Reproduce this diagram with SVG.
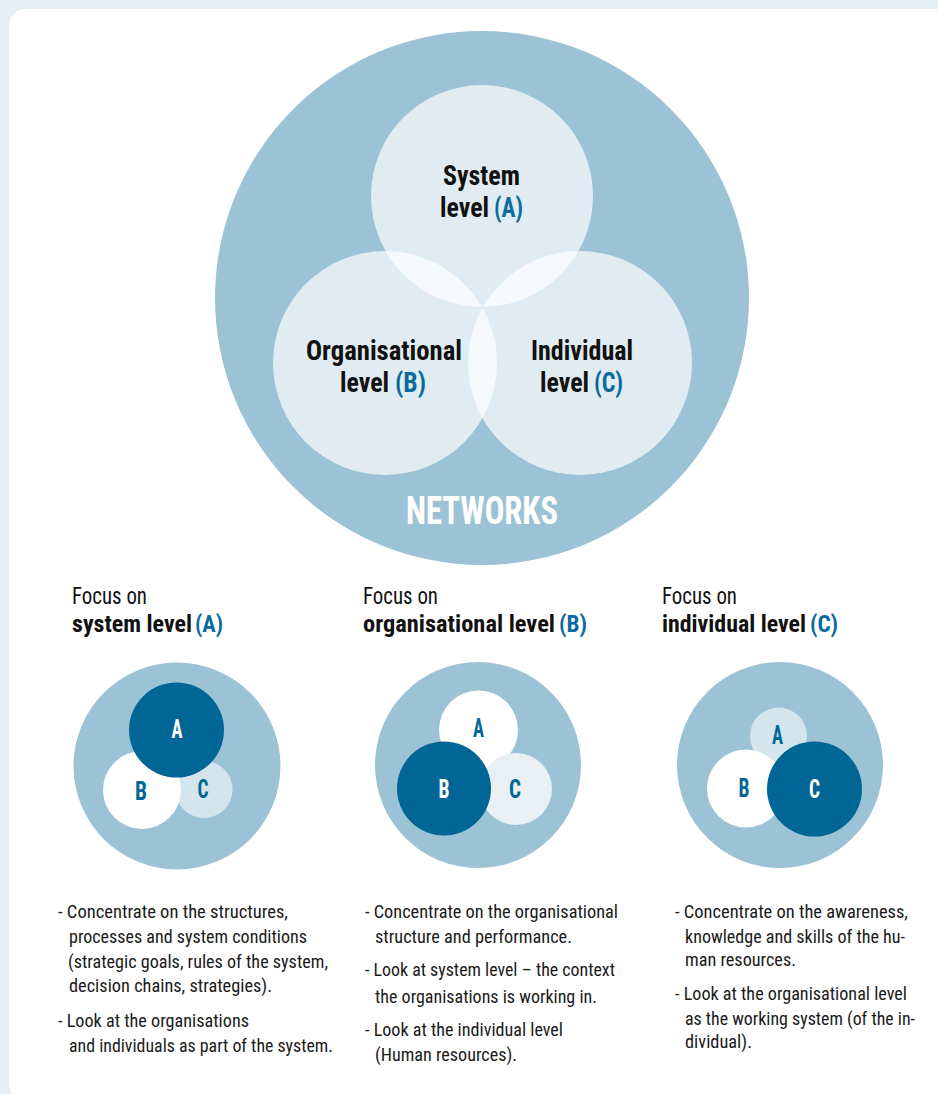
<svg xmlns="http://www.w3.org/2000/svg" width="938" height="1094" viewBox="0 0 938 1094">
<style>
text{font-family:"Liberation Sans Narrow","Roboto Condensed","DejaVu Sans Condensed","Liberation Sans",sans-serif;}
.lbl{font-size:28px;font-weight:bold;fill:#111;}
.net{font-size:38px;font-weight:bold;fill:#fff;}
.focus{font-size:23px;fill:#111;}
.focusb{font-size:23px;font-weight:bold;fill:#111;}
.body{font-size:18px;fill:#1a1a1a;}
.lt{font-size:25px;font-weight:bold;text-anchor:middle;}
.outer{fill:#9cc3d5;}
.venn{fill:#fff;fill-opacity:0.69;}
.dark{fill:#006696;}
.white{fill:#fff;}
.blue{fill:#0b6b9c;}
</style>
<rect x="0" y="0" width="938" height="1094" fill="#e4eef3"/>
<rect x="9" y="9" width="945" height="1092" rx="16" fill="#fff"/>

<g id="networks">
<circle class="outer" cx="482" cy="298" r="267"/>
<text class="net" x="406" y="524" textLength="152" lengthAdjust="spacingAndGlyphs">NETWORKS</text>
</g>
<g id="system-level">
<circle class="venn" cx="482" cy="196" r="111"/>
<text class="lbl" x="443" y="185" textLength="77" lengthAdjust="spacingAndGlyphs">System</text>
<text class="lbl" x="440" y="217" textLength="49" lengthAdjust="spacingAndGlyphs">level</text>
<text class="lbl blue" x="494" y="217" textLength="29" lengthAdjust="spacingAndGlyphs">(A)</text>
</g>
<g id="organisational-level">
<circle class="venn" cx="385" cy="363" r="112"/>
<text class="lbl" x="306" y="360" textLength="156" lengthAdjust="spacingAndGlyphs">Organisational</text>
<text class="lbl" x="340" y="392" textLength="49" lengthAdjust="spacingAndGlyphs">level</text>
<text class="lbl blue" x="395" y="392" textLength="31" lengthAdjust="spacingAndGlyphs">(B)</text>
</g>
<g id="individual-level">
<circle class="venn" cx="580" cy="363" r="112"/>
<text class="lbl" x="531" y="360" textLength="102" lengthAdjust="spacingAndGlyphs">Individual</text>
<text class="lbl" x="540" y="392" textLength="49" lengthAdjust="spacingAndGlyphs">level</text>
<text class="lbl blue" x="594" y="392" textLength="29" lengthAdjust="spacingAndGlyphs">(C)</text>
</g>

<g id="focus-a">
<text class="focus" x="72" y="604" textLength="75" lengthAdjust="spacingAndGlyphs">Focus on</text>
<text class="focusb" x="72" y="632" textLength="120" lengthAdjust="spacingAndGlyphs">system level</text>
<text class="focusb blue" x="195" y="632" textLength="28" lengthAdjust="spacingAndGlyphs">(A)</text>
<circle class="outer" cx="177" cy="766" r="103.5"/>
<circle cx="204" cy="789.5" r="28.5" fill="#d4e5ee"/>
<circle class="white" cx="142" cy="790" r="39"/>
<circle class="dark" cx="176.5" cy="730" r="47.5"/>
<text class="lt" x="177" y="738" fill="#fff" textLength="11" lengthAdjust="spacingAndGlyphs">A</text>
<text class="lt" x="141" y="800" fill="#006696" textLength="12" lengthAdjust="spacingAndGlyphs">B</text>
<text class="lt" x="203" y="798" fill="#006696" textLength="11" lengthAdjust="spacingAndGlyphs">C</text>
<text class="body" x="58" y="918" textLength="230" lengthAdjust="spacingAndGlyphs">- Concentrate on the structures,</text>
<text class="body" x="69" y="943" textLength="238" lengthAdjust="spacingAndGlyphs">processes and system conditions</text>
<text class="body" x="68" y="968" textLength="260" lengthAdjust="spacingAndGlyphs">(strategic goals, rules of the system,</text>
<text class="body" x="69" y="992" textLength="203" lengthAdjust="spacingAndGlyphs">decision chains, strategies).</text>
<text class="body" x="58" y="1027" textLength="191" lengthAdjust="spacingAndGlyphs">- Look at the organisations</text>
<text class="body" x="69" y="1052" textLength="264" lengthAdjust="spacingAndGlyphs">and individuals as part of the system.</text>
</g>

<g id="focus-b">
<text class="focus" x="363" y="604" textLength="75" lengthAdjust="spacingAndGlyphs">Focus on</text>
<text class="focusb" x="363" y="632" textLength="192" lengthAdjust="spacingAndGlyphs">organisational level</text>
<text class="focusb blue" x="559" y="632" textLength="28" lengthAdjust="spacingAndGlyphs">(B)</text>
<circle class="outer" cx="478" cy="765" r="103"/>
<circle class="white" cx="478.5" cy="730" r="39.5"/>
<circle cx="516" cy="789" r="36" fill="#e8f0f4"/>
<circle class="dark" cx="444" cy="788.5" r="47"/>
<text class="lt" x="478.5" y="737" fill="#006696" textLength="11" lengthAdjust="spacingAndGlyphs">A</text>
<text class="lt" x="444" y="798" fill="#fff" textLength="11" lengthAdjust="spacingAndGlyphs">B</text>
<text class="lt" x="515" y="798" fill="#006696" textLength="12" lengthAdjust="spacingAndGlyphs">C</text>
<text class="body" x="365" y="918" textLength="253" lengthAdjust="spacingAndGlyphs">- Concentrate on the organisational</text>
<text class="body" x="375" y="943" textLength="197" lengthAdjust="spacingAndGlyphs">structure and performance.</text>
<text class="body" x="365" y="976" textLength="250" lengthAdjust="spacingAndGlyphs">- Look at system level – the context</text>
<text class="body" x="375" y="1003" textLength="222" lengthAdjust="spacingAndGlyphs">the organisations is working in.</text>
<text class="body" x="365" y="1036" textLength="198" lengthAdjust="spacingAndGlyphs">- Look at the individual level</text>
<text class="body" x="375" y="1061" textLength="142" lengthAdjust="spacingAndGlyphs">(Human resources).</text>
</g>

<g id="focus-c">
<text class="focus" x="662" y="604" textLength="75" lengthAdjust="spacingAndGlyphs">Focus on</text>
<text class="focusb" x="662" y="632" textLength="144" lengthAdjust="spacingAndGlyphs">individual level</text>
<text class="focusb blue" x="810" y="632" textLength="28" lengthAdjust="spacingAndGlyphs">(C)</text>
<circle class="outer" cx="780" cy="765" r="103"/>
<circle cx="778.5" cy="736" r="28.5" fill="#d4e5ee"/>
<circle class="white" cx="746" cy="788.5" r="39"/>
<circle class="dark" cx="814.5" cy="789" r="47.5"/>
<text class="lt" x="777.5" y="744" fill="#006696" textLength="11" lengthAdjust="spacingAndGlyphs">A</text>
<text class="lt" x="744" y="797" fill="#006696" textLength="11" lengthAdjust="spacingAndGlyphs">B</text>
<text class="lt" x="814.5" y="798" fill="#fff" textLength="11" lengthAdjust="spacingAndGlyphs">C</text>
<text class="body" x="675" y="918" textLength="233" lengthAdjust="spacingAndGlyphs">- Concentrate on the awareness,</text>
<text class="body" x="685" y="943" textLength="220" lengthAdjust="spacingAndGlyphs">knowledge and skills of the hu-</text>
<text class="body" x="685" y="966" textLength="111" lengthAdjust="spacingAndGlyphs">man resources.</text>
<text class="body" x="675" y="1000" textLength="232" lengthAdjust="spacingAndGlyphs">- Look at the organisational level</text>
<text class="body" x="685" y="1025" textLength="230" lengthAdjust="spacingAndGlyphs">as the working system (of the in-</text>
<text class="body" x="685" y="1048" textLength="67" lengthAdjust="spacingAndGlyphs">dividual).</text>
</g>
<g id="connectors"/>
</svg>
